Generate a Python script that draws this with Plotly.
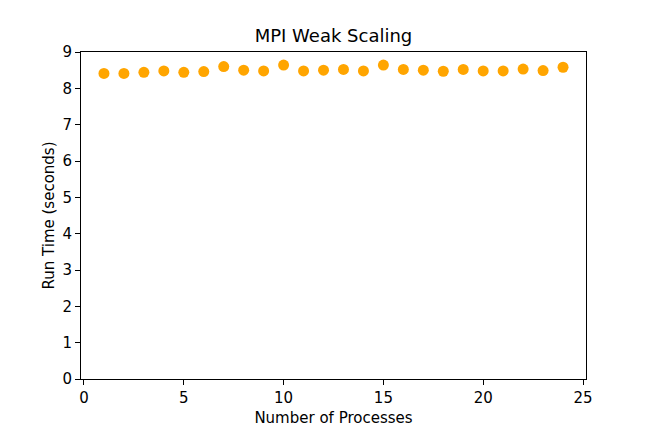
import plotly.graph_objects as go

processes = list(range(1, 25))
run_time = [8.41, 8.41, 8.44, 8.48, 8.44, 8.46, 8.60, 8.50, 8.48, 8.64, 8.48, 8.50,
            8.52, 8.48, 8.64, 8.52, 8.50, 8.47, 8.52, 8.48, 8.48, 8.53, 8.49, 8.58]
x_ticks = [0, 5, 10, 15, 20, 25]
y_ticks = list(range(0, 10))

fig = go.Figure(go.Scatter(
    x=processes, y=run_time, mode="markers",
    marker=dict(color="#FFA500", size=11, line=dict(width=0)),
))

axis_common = dict(
    showgrid=False, zeroline=False, showline=True, linecolor="black", linewidth=1,
    mirror=True, ticks="outside", ticklen=5, tickcolor="black",
    tickfont=dict(family="DejaVu Sans", size=15, color="black"),
)

fig.update_layout(
    width=651, height=434,
    margin=dict(l=73, r=73, t=44, b=63),
    paper_bgcolor="white", plot_bgcolor="white",
    showlegend=False,
    title=dict(text="MPI Weak Scaling", x=0.5, xanchor="center", y=1 - 28/434, yanchor="middle",
               font=dict(family="DejaVu Sans", size=18, color="black")),
    xaxis=dict(axis_common, range=[-0.15, 25.15], tickvals=x_ticks,
               title=dict(text="Number of Processes", font=dict(family="DejaVu Sans", size=15, color="black"), standoff=6)),
    yaxis=dict(axis_common, range=[0, 9], tickvals=y_ticks,
               title=dict(text="Run Time (seconds)", font=dict(family="DejaVu Sans", size=15, color="black"), standoff=4)),
)

fig.write_html("out.html")
